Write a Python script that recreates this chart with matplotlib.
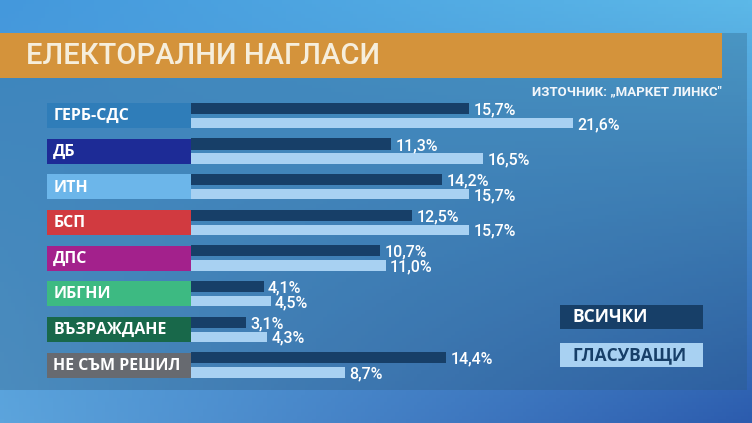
import numpy as np
import matplotlib.pyplot as plt
from matplotlib.patches import Rectangle

# data
parties = ['ГЕРБ-СДС', 'ДБ', 'ИТН', 'БСП', 'ДПС', 'ИБГНИ', 'ВЪЗРАЖДАНЕ', 'НЕ СЪМ РЕШИЛ']
all_people = [15.7, 11.3, 14.2, 12.5, 10.7, 4.1, 3.1, 14.4]
voters = [21.6, 16.5, 15.7, 15.7, 11.0, 4.5, 4.3, 8.7]
party_colors = ['#2f7db9', '#1d2b96', '#6cb6ea', '#d13a40', '#a3218c', '#3dba82', '#18684a', '#676a70']
series_names = ['ВСИЧКИ', 'ГЛАСУВАЩИ']
title = 'ЕЛЕКТОРАЛНИ НАГЛАСИ'
source = 'ИЗТОЧНИК: „МАРКЕТ ЛИНКС"'

dark = '#173f68'
light = '#a8d1f2'
W, H = 752, 423

fig = plt.figure(figsize=(W / 100, H / 100), dpi=100)
bg = fig.add_axes([0, 0, 1, 1])
bg.set_xlim(0, W)
bg.set_ylim(H, 0)
bg.axis('off')

# background gradient
yy, xx = np.mgrid[0:1:120j, 0:1:200j]
c_tl = np.array([0x44, 0x98, 0xdc]) / 255
c_tr = np.array([0x5c, 0xb8, 0xe8]) / 255
c_bl = np.array([0x5c, 0xa4, 0xdc]) / 255
c_br = np.array([0x2c, 0x5c, 0xae]) / 255
img = (c_tl * ((1 - xx) * (1 - yy))[..., None] + c_tr * (xx * (1 - yy))[..., None]
       + c_bl * ((1 - xx) * yy)[..., None] + c_br * (xx * yy)[..., None])
bg.imshow(img, extent=(0, W, H, 0), aspect='auto', zorder=0)

# translucent panel
bg.add_patch(Rectangle((0, 33), 747, 357, color='#2a5878', alpha=0.30, lw=0, zorder=1))

# title bar
bg.add_patch(Rectangle((0, 33), 722, 45, color='#d4933b', lw=0, zorder=2))
bg.text(26, 56, title, color='#f6eedc', fontsize=21, family='Roboto', fontweight='medium',
        va='center', ha='left', zorder=3)
bg.text(722, 92, source, color='#f2f6fa', fontsize=9.5, family='Roboto',
        fontweight='bold', va='center', ha='right', zorder=3)

# legend
bg.add_patch(Rectangle((560, 305), 143, 24, color=dark, lw=0, zorder=2))
bg.add_patch(Rectangle((560, 343), 143, 24, color=light, lw=0, zorder=2))
bg.text(573, 317.5, series_names[0], color='white', fontsize=12.5, fontweight='bold',
        family='Open Sans', va='center', zorder=3)
bg.text(573, 355.5, series_names[1], color=dark, fontsize=12.5, fontweight='bold',
        family='Open Sans', va='center', zorder=3)

# bar axes: 17.7 px per percent, bars start at x=191px
ppu = 17.7
x0, x_start, x1 = 47, 191, 752
row = 35.65
top = 115.5 - row / 2
bottom = top + row * 8
ax = fig.add_axes([x0 / W, 1 - bottom / H, (x1 - x0) / W, (bottom - top) / H])
ax.set_xlim(-(x_start - x0) / ppu, (x1 - x_start) / ppu)
ax.set_ylim(7.5, -0.5)
ax.axis('off')
ax.patch.set_alpha(0)

y = np.arange(len(parties))
box_w = (x_start - x0) / ppu
ax.barh(y, box_w, left=-box_w, height=0.70, color=party_colors)
ax.barh(y - 0.2, all_people, height=0.31, color=dark)
ax.barh(y + 0.21, voters, height=0.29, color=light)

for i, name in enumerate(parties):
    ax.text(-box_w + 0.35, i + 0.02, name, color='white', fontsize=11.5, fontweight='bold',
            family='Open Sans', va='center', ha='left')
    ax.text(all_people[i] + 0.25, i - 0.16, f'{all_people[i]:.1f}%'.replace('.', ','),
            color='white', fontsize=11.5, family='Roboto', fontweight='medium', va='center')
    ax.text(voters[i] + 0.25, i + 0.25, f'{voters[i]:.1f}%'.replace('.', ','),
            color='white', fontsize=11.5, family='Roboto', fontweight='medium', va='center')

fig.savefig('out.png', dpi=100)
